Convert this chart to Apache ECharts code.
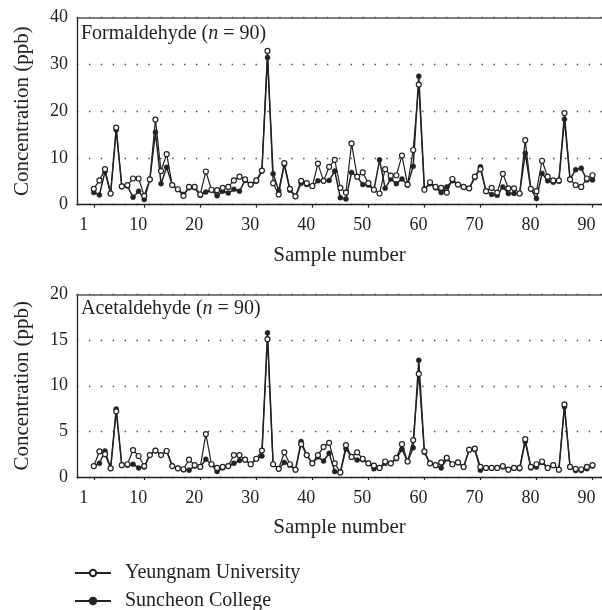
<!DOCTYPE html>
<html><head><meta charset="utf-8">
<script src="https://cdn.jsdelivr.net/npm/echarts@6/dist/echarts.min.js"></script>
<style>html,body{margin:0;padding:0;background:#fff}#c{width:602px;height:610px}</style>
</head><body><div id="c"></div>
<script>
const tickLabels = [1, 10, 20, 30, 40, 50, 60, 70, 80, 90];
const formYU = [3.4,5.2,7.6,2.4,16.5,3.9,4.2,5.6,5.6,1.9,5.4,18.2,7.2,10.8,4.2,3.3,1.9,3.8,3.8,2.2,7.1,3.2,3.1,3.6,3.8,5.2,6.0,5.4,4.3,5.2,7.3,32.9,4.6,2.2,8.9,3.4,1.8,5.1,4.6,4.0,8.8,5.1,8.1,9.6,3.6,2.6,13.1,6.0,6.9,4.6,3.2,2.4,7.6,6.2,6.3,10.5,4.3,11.7,25.7,3.2,4.8,3.8,3.6,2.6,5.5,4.3,3.8,3.5,6.0,7.6,2.9,3.6,2.6,6.6,3.5,3.5,2.4,13.8,3.4,2.9,9.4,6.0,5.2,5.2,19.6,5.4,4.2,3.8,5.6,6.3];
const formSC = [2.6,2.1,7.1,2.4,16.0,3.9,4.0,1.6,2.9,1.1,5.4,15.5,4.5,8.0,4.2,3.3,2.2,3.6,3.6,2.0,2.7,3.1,1.9,2.9,2.5,3.3,2.9,5.2,4.3,5.0,7.2,31.5,6.6,3.0,8.6,3.1,1.8,4.6,4.3,4.0,5.1,5.1,5.2,7.2,1.5,1.2,6.9,6.0,4.3,4.2,3.2,9.6,3.5,5.5,4.5,5.5,4.2,8.2,27.5,3.4,4.5,3.6,2.6,3.8,5.1,4.3,3.8,3.5,5.8,8.1,2.9,2.2,2.0,3.8,2.4,2.4,2.4,11.0,3.4,1.3,6.7,5.1,4.8,5.0,18.3,5.4,7.5,7.8,5.3,5.3];
const acetYU = [1.2,2.8,2.5,0.95,7.2,1.3,1.4,2.95,2.3,1.2,2.4,2.9,2.4,2.85,1.2,0.95,0.85,1.9,1.3,1.1,4.7,1.4,1.0,1.1,1.2,2.4,2.4,1.9,1.4,2.0,2.9,15.1,1.4,0.9,2.7,1.4,0.8,3.6,2.4,1.5,2.4,3.3,3.75,1.5,0.5,3.5,2.2,2.7,2.0,1.5,1.25,1.0,1.7,1.5,2.1,3.6,1.7,4.05,11.3,2.8,1.5,1.3,1.6,2.1,1.4,1.6,1.1,3.0,3.1,1.1,1.0,1.0,1.0,1.2,0.8,1.0,1.0,4.15,1.1,1.4,1.7,1.0,1.3,0.8,7.95,1.1,0.9,0.85,1.1,1.3];
const acetSC = [1.2,1.5,2.85,0.95,7.45,1.3,1.3,1.4,1.0,1.1,2.4,2.9,2.4,2.85,1.2,0.95,0.8,0.75,1.2,1.1,1.95,1.4,0.6,1.0,1.2,1.5,1.8,1.9,1.4,2.0,2.3,15.8,1.4,0.9,1.6,1.3,0.8,3.9,2.4,1.5,2.2,1.75,2.6,0.6,0.5,3.1,2.2,1.85,1.9,1.5,0.9,1.0,1.5,1.5,2.0,3.05,1.7,3.2,12.8,2.7,1.5,1.3,1.0,2.0,1.4,1.6,1.1,3.0,3.0,0.75,1.0,1.0,1.0,1.1,0.8,1.0,0.9,3.9,1.0,1.1,1.6,1.0,1.3,0.8,7.7,1.1,0.7,0.7,0.9,1.2];
const sampleNumbers = formYU.map((_, i) => i + 1);

const FONT = 'Liberation Serif';
const INK = '#222';
const pairs = arr => arr.map((v, i) => [sampleNumbers[i], v]);

function xAxisFor(g) {
  return {
    gridIndex: g, type: 'value', min: -2, max: 91.7,
    name: 'Sample number', nameLocation: 'middle', nameGap: 40,
    nameTextStyle: {fontFamily: FONT, fontSize: 21, color: INK},
    axisLine: {show: true, onZero: false, lineStyle: {color: INK, width: 1.3}},
    axisTick: {show: true, customValues: tickLabels, length: 3, lineStyle: {color: INK, width: 1.2}},
    axisLabel: {
      customValues: tickLabels, margin: 12,
      formatter: v => (v === 1 ? '{p1|1}' : '{p|' + v + '}'),
      rich: {
        p: {fontFamily: FONT, fontSize: 18, color: INK, padding: [0, 12, 0, 0]},
        p1: {fontFamily: FONT, fontSize: 18, color: INK, padding: [0, 20, 0, 0]}
      }
    },
    splitLine: {show: false}
  };
}
function topBorder(g) {
  return {
    gridIndex: g, type: 'value', position: 'top', min: -2, max: 91.7,
    axisLine: {show: true, onZero: false, lineStyle: {color: '#555', width: 1.6}},
    axisTick: {show: false}, axisLabel: {show: false}, splitLine: {show: false}
  };
}
function yAxisFor(g, max, interval) {
  return {
    gridIndex: g, type: 'value', min: 0, max: max, interval: interval,
    name: 'Concentration (ppb)', nameLocation: 'middle', nameGap: 44,
    nameTextStyle: {fontFamily: FONT, fontSize: 21, color: INK},
    axisLine: {show: true, onZero: false, lineStyle: {color: INK, width: 1.3}},
    axisTick: {show: false},
    axisLabel: {fontFamily: FONT, fontSize: 18, color: INK, margin: 9},
    splitLine: {show: true, lineStyle: {color: '#444', width: 1.4, type: [1.4, 10.5]}}
  };
}
function openSeries(name, data, xi, yi) {
  return {
    name, type: 'line', xAxisIndex: xi, yAxisIndex: yi, data: pairs(data),
    symbol: 'circle', symbolSize: 5, z: 3,
    lineStyle: {color: INK, width: 1.2},
    itemStyle: {color: '#fff', borderColor: INK, borderWidth: 1.2},
    emphasis: {disabled: true}
  };
}
function filledSeries(name, data, xi, yi) {
  return {
    name, type: 'line', xAxisIndex: xi, yAxisIndex: yi, data: pairs(data),
    symbol: 'circle', symbolSize: 5, z: 2,
    lineStyle: {color: INK, width: 1.5},
    itemStyle: {color: INK, borderColor: INK, borderWidth: 0.5},
    emphasis: {disabled: true}
  };
}
const titleRich = {
  a: {fontFamily: FONT, fontSize: 20, fontWeight: 'normal', color: INK},
  b: {fontFamily: FONT, fontSize: 20, fontWeight: 'normal', fontStyle: 'italic', color: INK}
};
const legendBase = {
  orient: 'horizontal', left: 69, itemWidth: 36, itemHeight: 8, selectedMode: false,
  textStyle: {fontFamily: FONT, fontSize: 20, color: INK, padding: [0, 0, 0, 9]}
};

const chart = echarts.init(document.getElementById('c'), null, {renderer: 'canvas'});
chart.setOption({
  animation: false,
  backgroundColor: '#fff',
  textStyle: {fontFamily: FONT},
  title: [
    {text: '{a|Formaldehyde (}{b|n}{a| = 90)}', left: 76, top: 19, textStyle: {fontWeight: 'normal', rich: titleRich}},
    {text: '{a|Acetaldehyde (}{b|n}{a| = 90)}', left: 76, top: 294, textStyle: {fontWeight: 'normal', rich: titleRich}}
  ],
  grid: [
    {left: 77, right: 0, top: 17.7, height: 187, outerBoundsMode: 'none', containLabel: false},
    {left: 77, right: 0, top: 294.5, height: 182.5, outerBoundsMode: 'none', containLabel: false}
  ],
  xAxis: [xAxisFor(0), xAxisFor(1), topBorder(0), topBorder(1)],
  yAxis: [yAxisFor(0, 40, 10), yAxisFor(1, 20, 5)],
  legend: [
    Object.assign({}, legendBase, {data: ['Yeungnam University'], top: 558}),
    Object.assign({}, legendBase, {data: ['Suncheon College'], top: 586})
  ],
  series: [
    filledSeries('Suncheon College', formSC, 0, 0),
    openSeries('Yeungnam University', formYU, 0, 0),
    filledSeries('Suncheon College', acetSC, 1, 1),
    openSeries('Yeungnam University', acetYU, 1, 1)
  ]
});
</script>
</body></html>
